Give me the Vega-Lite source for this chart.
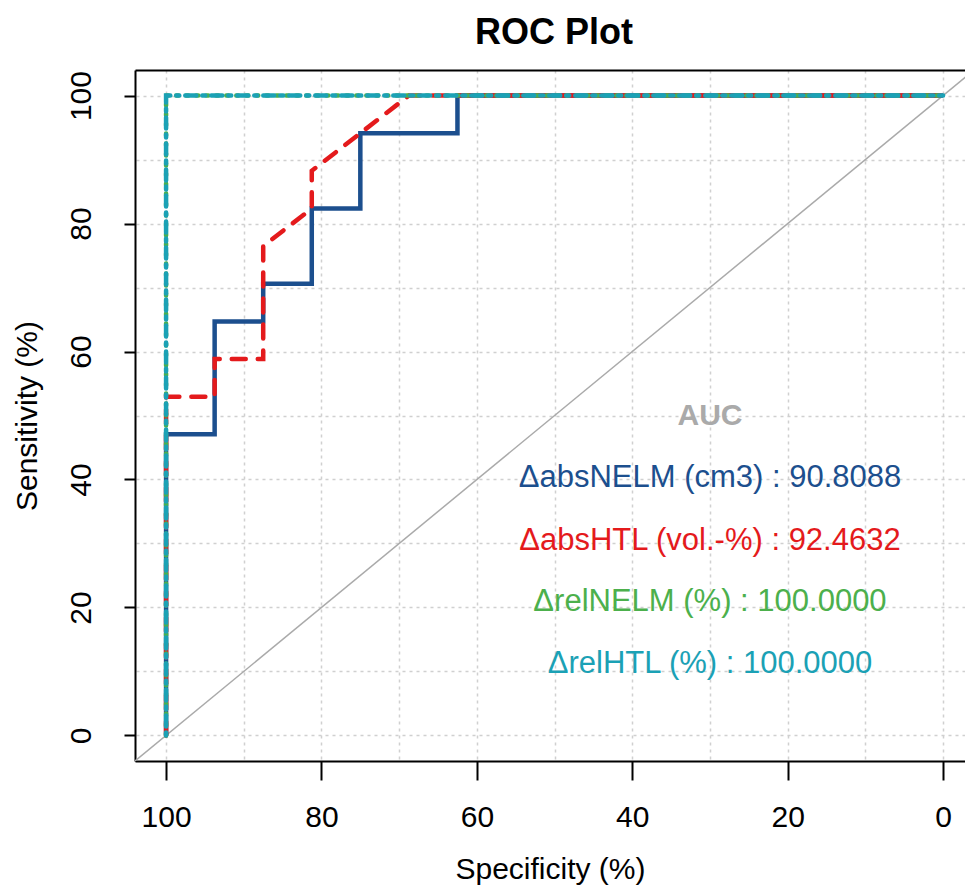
{
  "$schema": "https://vega.github.io/schema/vega-lite/v6.json",
  "width": 830,
  "height": 691,
  "autosize": {"type": "none"},
  "padding": {"left": 135, "top": 70, "right": 0, "bottom": 127},
  "background": "white",
  "title": {"text": "ROC Plot", "fontSize": 36, "fontWeight": "bold", "font": "Liberation Sans", "color": "black", "offset": 18, "dx": 4},
  "config": {"view": {"stroke": null}, "font": "Liberation Sans"},
  "datasets": {
    "diag": [{"x": 104, "y": -4}, {"x": -4, "y": 104}],
    "curves": [
      {"series": "ΔabsNELM", "i": 1, "x": 100, "y": 0},
      {"series": "ΔabsNELM", "i": 2, "x": 100, "y": 47.06},
      {"series": "ΔabsNELM", "i": 3, "x": 93.75, "y": 47.06},
      {"series": "ΔabsNELM", "i": 4, "x": 93.75, "y": 64.71},
      {"series": "ΔabsNELM", "i": 5, "x": 87.5, "y": 64.71},
      {"series": "ΔabsNELM", "i": 6, "x": 87.5, "y": 70.59},
      {"series": "ΔabsNELM", "i": 7, "x": 81.25, "y": 70.59},
      {"series": "ΔabsNELM", "i": 8, "x": 81.25, "y": 82.35},
      {"series": "ΔabsNELM", "i": 9, "x": 75, "y": 82.35},
      {"series": "ΔabsNELM", "i": 10, "x": 75, "y": 94.12},
      {"series": "ΔabsNELM", "i": 11, "x": 62.5, "y": 94.12},
      {"series": "ΔabsNELM", "i": 12, "x": 62.5, "y": 100},
      {"series": "ΔabsNELM", "i": 13, "x": 0, "y": 100},
      {"series": "ΔabsHTL", "i": 1, "x": 100, "y": 0},
      {"series": "ΔabsHTL", "i": 2, "x": 100, "y": 52.94},
      {"series": "ΔabsHTL", "i": 3, "x": 93.75, "y": 52.94},
      {"series": "ΔabsHTL", "i": 4, "x": 93.75, "y": 58.82},
      {"series": "ΔabsHTL", "i": 5, "x": 87.5, "y": 58.82},
      {"series": "ΔabsHTL", "i": 6, "x": 87.5, "y": 76.47},
      {"series": "ΔabsHTL", "i": 7, "x": 81.25, "y": 82.35},
      {"series": "ΔabsHTL", "i": 8, "x": 81.25, "y": 88.24},
      {"series": "ΔabsHTL", "i": 9, "x": 68.75, "y": 100},
      {"series": "ΔabsHTL", "i": 10, "x": 0, "y": 100},
      {"series": "ΔrelNELM", "i": 1, "x": 100, "y": 0},
      {"series": "ΔrelNELM", "i": 2, "x": 100, "y": 100},
      {"series": "ΔrelNELM", "i": 3, "x": 0, "y": 100},
      {"series": "ΔrelHTL", "i": 1, "x": 100, "y": 0},
      {"series": "ΔrelHTL", "i": 2, "x": 100, "y": 100},
      {"series": "ΔrelHTL", "i": 3, "x": 0, "y": 100}
    ],
    "auc": [
      {"series": "ΔabsNELM", "label": "ΔabsNELM (cm3) : 90.8088", "x": 30, "y": 40.3},
      {"series": "ΔabsHTL", "label": "ΔabsHTL (vol.-%) : 92.4632", "x": 30, "y": 30.4},
      {"series": "ΔrelNELM", "label": "ΔrelNELM (%) : 100.0000", "x": 30, "y": 20.8},
      {"series": "ΔrelHTL", "label": "ΔrelHTL (%) : 100.0000", "x": 30, "y": 11.2}
    ],
    "aucHead": [{"label": "AUC", "x": 30, "y": 50}]
  },
  "encoding": {
    "y": {
      "field": "y", "type": "quantitative",
      "scale": {"domain": [-4, 104], "nice": false, "zero": false},
      "axis": {
        "values": [0, 10, 20, 30, 40, 50, 60, 70, 80, 90, 100],
        "labelExpr": "datum.value % 20 === 0 ? datum.label : ''",
        "grid": true, "gridColor": "#d0d0d0", "gridDash": [3, 4], "gridWidth": 1.5,
        "tickOpacity": {"condition": {"test": "datum.value % 20 !== 0", "value": 0}, "value": 1},
        "tickSize": 11, "tickWidth": 2, "tickColor": "black",
        "domainColor": "black", "domainWidth": 2,
        "labelFontSize": 30, "labelColor": "black", "labelAngle": -90,
        "labelAlign": "center", "labelBaseline": "alphabetic",
        "labelPadding": 34, "labelFlush": false, "labelOverlap": false,
        "title": "Sensitivity (%)", "titleFontSize": 30, "titleFontWeight": "normal",
        "titleColor": "black", "titleBaseline": "alphabetic", "titlePadding": 30
      }
    }
  },
  "layer": [
    {
      "data": {"name": "diag"},
      "mark": {"type": "line", "color": "#aaaaaa", "strokeWidth": 1.5, "clip": true},
      "encoding": {
        "x": {
          "field": "x", "type": "quantitative",
          "scale": {"domain": [-2.82, 104], "reverse": true, "nice": false, "zero": false},
          "axis": {
            "orient": "bottom",
            "values": [0, 10, 20, 30, 40, 50, 60, 70, 80, 90, 100],
            "labelExpr": "datum.value % 20 === 0 ? datum.label : ''",
            "grid": true, "gridColor": "#d0d0d0", "gridDash": [3, 4], "gridWidth": 1.5,
            "tickOpacity": {"condition": {"test": "datum.value % 20 !== 0", "value": 0}, "value": 1},
            "tickSize": 19, "tickWidth": 2, "tickColor": "black",
            "domainColor": "black", "domainWidth": 2,
            "labelFontSize": 30, "labelColor": "black", "labelBaseline": "alphabetic",
            "labelPadding": 46, "labelFlush": false, "labelOverlap": false,
            "title": "Specificity (%)", "titleFontSize": 30, "titleFontWeight": "normal",
            "titleColor": "black", "titleBaseline": "alphabetic", "titlePadding": 46
          }
        }
      }
    },
    {
      "data": {"name": "curves"},
      "transform": [{"filter": "datum.series === 'ΔabsNELM'"}],
      "mark": {"type": "line", "strokeWidth": 4.5, "strokeJoin": "miter"},
      "encoding": {
        "x": {"field": "x", "type": "quantitative", "axis": null},
        "order": {"field": "i", "type": "quantitative"},
        "color": {"field": "series", "type": "nominal", "legend": null,
          "scale": {"domain": ["ΔabsNELM", "ΔabsHTL", "ΔrelNELM", "ΔrelHTL"], "range": ["#1c4f8e", "#e41a1c", "#4cb04c", "#1ba1b5"]}}
      }
    },
    {
      "data": {"name": "curves"},
      "transform": [{"filter": "datum.series === 'ΔabsHTL'"}],
      "mark": {"type": "line", "strokeWidth": 4.5, "strokeDash": [14, 12], "strokeCap": "round"},
      "encoding": {
        "x": {"field": "x", "type": "quantitative", "axis": null},
        "order": {"field": "i", "type": "quantitative"},
        "color": {"field": "series", "type": "nominal", "legend": null}
      }
    },
    {
      "data": {"name": "curves"},
      "transform": [{"filter": "datum.series === 'ΔrelNELM'"}],
      "mark": {"type": "line", "strokeWidth": 4.5, "strokeDash": [2, 8], "strokeCap": "round"},
      "encoding": {
        "x": {"field": "x", "type": "quantitative", "axis": null},
        "order": {"field": "i", "type": "quantitative"},
        "color": {"field": "series", "type": "nominal", "legend": null}
      }
    },
    {
      "data": {"name": "curves"},
      "transform": [{"filter": "datum.series === 'ΔrelHTL'"}],
      "mark": {"type": "line", "strokeWidth": 4.5, "strokeDash": [3, 6, 11, 6], "strokeCap": "round"},
      "encoding": {
        "x": {"field": "x", "type": "quantitative", "axis": null},
        "order": {"field": "i", "type": "quantitative"},
        "color": {"field": "series", "type": "nominal", "legend": null}
      }
    },
    {
      "data": {"name": "aucHead"},
      "mark": {"type": "text", "fontSize": 30, "fontWeight": "bold", "color": "#aaaaaa", "align": "center", "baseline": "middle", "font": "Liberation Sans"},
      "encoding": {
        "x": {"field": "x", "type": "quantitative",
          "axis": {"orient": "top", "domain": true, "domainColor": "black", "domainWidth": 2, "ticks": false, "labels": false, "grid": false, "title": null}},
        "text": {"field": "label"}
      }
    },
    {
      "data": {"name": "auc"},
      "mark": {"type": "text", "fontSize": 31, "align": "center", "baseline": "middle", "font": "Liberation Sans"},
      "encoding": {
        "x": {"field": "x", "type": "quantitative", "axis": null},
        "text": {"field": "label"},
        "color": {"field": "series", "type": "nominal", "legend": null}
      }
    }
  ],
  "resolve": {"axis": {"x": "independent"}}
}
